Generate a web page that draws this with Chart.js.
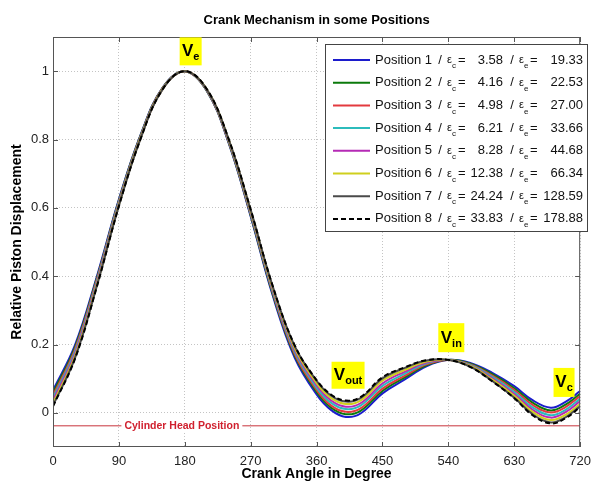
<!DOCTYPE html>
<html>
<head>
<meta charset="utf-8">
<script src="https://cdn.jsdelivr.net/npm/chart.js@4.4.0/dist/chart.umd.min.js"></script>
<style>
  html, body { margin: 0; padding: 0; background: #fff; }
  #wrap { width: 598px; height: 481px; }
</style>
</head>
<body>
<div id="wrap"><canvas id="c" width="598" height="481"></canvas></div>
<script>
const angles = [0, 30, 60, 90, 120, 150, 180, 210, 240, 270, 300, 330, 360, 380, 400, 420, 450, 480, 510, 540, 570, 600, 630, 655, 680, 700, 720];

// relative piston displacement, one array per position
const pos1 = [0.066, 0.198, 0.400, 0.625, 0.816, 0.953, 1, 0.943, 0.789, 0.575, 0.344, 0.162, 0.054, 0.008, -0.012, -0.002, 0.057, 0.097, 0.136, 0.155, 0.146, 0.117, 0.078, 0.037, 0.015, 0.032, 0.064];
const pos2 = [0.058, 0.192, 0.395, 0.622, 0.814, 0.952, 1, 0.943, 0.791, 0.578, 0.349, 0.168, 0.061, 0.015, -0.004, 0.006, 0.064, 0.103, 0.139, 0.155, 0.144, 0.113, 0.072, 0.030, 0.007, 0.024, 0.056];
const pos3 = [0.051, 0.186, 0.391, 0.619, 0.812, 0.951, 1, 0.944, 0.793, 0.581, 0.353, 0.173, 0.067, 0.021, 0.003, 0.013, 0.071, 0.108, 0.142, 0.155, 0.142, 0.109, 0.067, 0.023, 0.001, 0.017, 0.049];
const pos4 = [0.043, 0.179, 0.386, 0.616, 0.810, 0.950, 1, 0.945, 0.795, 0.584, 0.357, 0.179, 0.074, 0.029, 0.011, 0.021, 0.079, 0.114, 0.145, 0.155, 0.140, 0.105, 0.061, 0.016, -0.007, 0.009, 0.041];
const pos5 = [0.036, 0.173, 0.381, 0.612, 0.808, 0.949, 1, 0.946, 0.797, 0.588, 0.362, 0.185, 0.081, 0.036, 0.018, 0.028, 0.086, 0.120, 0.147, 0.155, 0.138, 0.101, 0.055, 0.009, -0.014, 0.002, 0.034];
const pos6 = [0.028, 0.166, 0.376, 0.609, 0.807, 0.949, 1, 0.947, 0.799, 0.591, 0.366, 0.190, 0.087, 0.043, 0.026, 0.036, 0.094, 0.125, 0.150, 0.155, 0.137, 0.097, 0.050, 0.003, -0.021, -0.006, 0.026];
const pos7 = [0.021, 0.160, 0.372, 0.606, 0.805, 0.948, 1, 0.947, 0.800, 0.594, 0.371, 0.196, 0.094, 0.050, 0.033, 0.043, 0.101, 0.131, 0.153, 0.155, 0.135, 0.093, 0.044, -0.004, -0.028, -0.013, 0.019];
const pos8 = [0.019, 0.158, 0.370, 0.605, 0.804, 0.948, 1, 0.948, 0.801, 0.595, 0.372, 0.198, 0.096, 0.053, 0.036, 0.046, 0.104, 0.133, 0.154, 0.155, 0.134, 0.092, 0.043, -0.007, -0.031, -0.016, 0.017];

const names = ['Position 1', 'Position 2', 'Position 3', 'Position 4', 'Position 5', 'Position 6', 'Position 7', 'Position 8'];
const epsC = ['3.58', '4.16', '4.98', '6.21', '8.28', '12.38', '24.24', '33.83'];
const epsE = ['19.33', '22.53', '27.00', '33.66', '44.68', '66.34', '128.59', '178.88'];

const xTicks = [0, 90, 180, 270, 360, 450, 540, 630, 720];
const yTicks = [0, 0.2, 0.4, 0.6, 0.8, 1];
const cylHead = -0.038;

const series = [pos1, pos2, pos3, pos4, pos5, pos6, pos7, pos8];
const colors = ['#1c1ccc', '#0b7a0b', '#e33a3f', '#2cbcbc', '#b52ab5', '#cfcf1e', '#4a4a4a', '#000000'];

const FONT = '"Liberation Sans", Arial, sans-serif';

const datasets = series.map((vals, i) => ({
  label: names[i],
  data: vals.map((v, k) => ({ x: angles[k], y: v })),
  borderColor: colors[i],
  borderWidth: 2,
  borderDash: i === 7 ? [5, 3] : [],
  pointRadius: 0,
  tension: 0.4,
  order: 8 - i
}));
datasets.push({
  label: 'Cylinder Head Position',
  data: [{ x: 0, y: cylHead }, { x: 720, y: cylHead }],
  borderColor: '#c8343c',
  borderWidth: 1,
  pointRadius: 0,
  order: 20
});

// markers V_e, V_out, V_in, V_c (sub text, angle, value, box w/h)
const marks = [
  { sub: 'e', x: 188, y: 1.058, w: 22, h: 28 },
  { sub: 'out', x: 403, y: 0.11, w: 33, h: 27 },
  { sub: 'in', x: 544, y: 0.22, w: 26, h: 29 },
  { sub: 'c', x: 698, y: 0.089, w: 21, h: 29 }
];

const decor = {
  id: 'decor',
  afterDraw(chart) {
    const c = chart.ctx;
    const a = chart.chartArea;
    const xs = chart.scales.x, ys = chart.scales.y;
    c.save();

    // box + inward ticks
    c.strokeStyle = '#555';
    c.lineWidth = 1;
    c.strokeRect(a.left + 0.5, a.top + 0.5, a.right - a.left - 1, a.bottom - a.top - 1);
    c.beginPath();
    xTicks.forEach(t => {
      const px = Math.round(xs.getPixelForValue(t)) + 0.5;
      c.moveTo(px, a.bottom); c.lineTo(px, a.bottom - 5);
      c.moveTo(px, a.top); c.lineTo(px, a.top + 5);
    });
    yTicks.forEach(t => {
      const py = Math.round(ys.getPixelForValue(t)) + 0.5;
      c.moveTo(a.left, py); c.lineTo(a.left + 5, py);
      c.moveTo(a.right, py); c.lineTo(a.right - 5, py);
    });
    c.stroke();

    // title
    c.fillStyle = '#000';
    c.font = 'bold 13px ' + FONT;
    c.textAlign = 'center';
    c.textBaseline = 'middle';
    c.fillText('Crank Mechanism in some Positions', (a.left + a.right) / 2, 20);

    // cylinder head label
    const ly = ys.getPixelForValue(cylHead);
    const lx = xs.getPixelForValue(176);
    c.font = 'bold 10.5px ' + FONT;
    const tw = c.measureText('Cylinder Head Position').width;
    c.fillStyle = '#fff';
    c.fillRect(lx - tw / 2 - 3, ly - 6, tw + 6, 12);
    c.fillStyle = '#d0202e';
    c.fillText('Cylinder Head Position', lx, ly + 0.5);

    // yellow markers
    marks.forEach(m => {
      const cx = xs.getPixelForValue(m.x), cy = ys.getPixelForValue(m.y);
      c.fillStyle = '#ffff00';
      c.fillRect(cx - m.w / 2, cy - m.h / 2, m.w, m.h);
      c.fillStyle = '#000';
      c.textAlign = 'left';
      c.textBaseline = 'alphabetic';
      c.font = 'bold 17px ' + FONT;
      const vw = c.measureText('V').width;
      c.font = 'bold 11px ' + FONT;
      const sw = c.measureText(m.sub).width;
      const x0 = cx - (vw + sw) / 2;
      c.font = 'bold 17px ' + FONT;
      c.fillText('V', x0, cy + 5);
      c.font = 'bold 11px ' + FONT;
      c.fillText(m.sub, x0 + vw, cy + 9);
    });

    // legend
    const L = 325, R = 588, T = 44, B = 232;
    c.fillStyle = '#fff';
    c.fillRect(L, T, R - L, B - T);
    c.strokeStyle = '#444';
    c.strokeRect(L + 0.5, T + 0.5, R - L - 1, B - T - 1);
    names.forEach((n, i) => {
      const y = 60 + i * 22.7;
      c.strokeStyle = colors[i];
      c.lineWidth = 2;
      c.setLineDash(i === 7 ? [5, 3] : []);
      c.beginPath(); c.moveTo(333, y); c.lineTo(370, y); c.stroke();
      c.setLineDash([]);
      c.fillStyle = '#111';
      c.textBaseline = 'middle';
      c.font = '13px ' + FONT;
      c.textAlign = 'left';
      c.fillText(n, 375, y);
      c.textAlign = 'center';
      c.fillText('/', 440, y);
      c.fillText('/', 512, y);
      c.textAlign = 'left';
      c.font = '11px ' + FONT;
      c.fillText('\u03b5', 447, y);
      c.fillText('\u03b5', 519, y);
      c.font = '8px ' + FONT;
      c.fillText('c', 452, y + 6);
      c.fillText('e', 524, y + 6);
      c.font = '13px ' + FONT;
      c.fillText('=', 458, y);
      c.fillText('=', 530, y);
      c.textAlign = 'right';
      c.fillText(epsC[i], 503, y);
      c.fillText(epsE[i], 583, y);
    });
    c.restore();
  }
};

new Chart(document.getElementById('c'), {
  type: 'line',
  data: { datasets },
  options: {
    responsive: false,
    animation: false,
    events: [],
    layout: { padding: { left: 0, right: 11, top: 37, bottom: 0 } },
    plugins: { legend: { display: false }, tooltip: { enabled: false }, title: { display: false } },
    scales: {
      x: {
        type: 'linear',
        min: 0,
        max: 720,
        afterFit: s => { s.height = 34; },
        afterBuildTicks: s => { s.ticks = xTicks.map(v => ({ value: v })); },
        grid: { color: '#c4c4c4', drawTicks: false },
        border: { display: false, dash: [1, 2] },
        ticks: { padding: 7, color: '#222', font: { family: FONT, size: 13 }, maxRotation: 0, callback: v => String(v) },
        title: { display: true, text: 'Crank Angle in Degree', color: '#000', padding: { top: 0, bottom: 0 }, font: { family: FONT, size: 14, weight: 'bold', lineHeight: 1 } }
      },
      y: {
        type: 'linear',
        min: -0.1,
        max: 1.1,
        afterFit: s => { s.width = 53; },
        afterBuildTicks: s => { s.ticks = yTicks.map(v => ({ value: v })); },
        grid: { color: '#c4c4c4', drawTicks: false },
        border: { display: false, dash: [1, 2] },
        ticks: { padding: 4, color: '#222', font: { family: FONT, size: 13 }, callback: v => String(v) },
        title: { display: true, text: 'Relative Piston Displacement', color: '#000', padding: { top: 10, bottom: 0 }, font: { family: FONT, size: 14, weight: 'bold', lineHeight: 1 } }
      }
    }
  },
  plugins: [decor]
});
</script>
</body>
</html>
